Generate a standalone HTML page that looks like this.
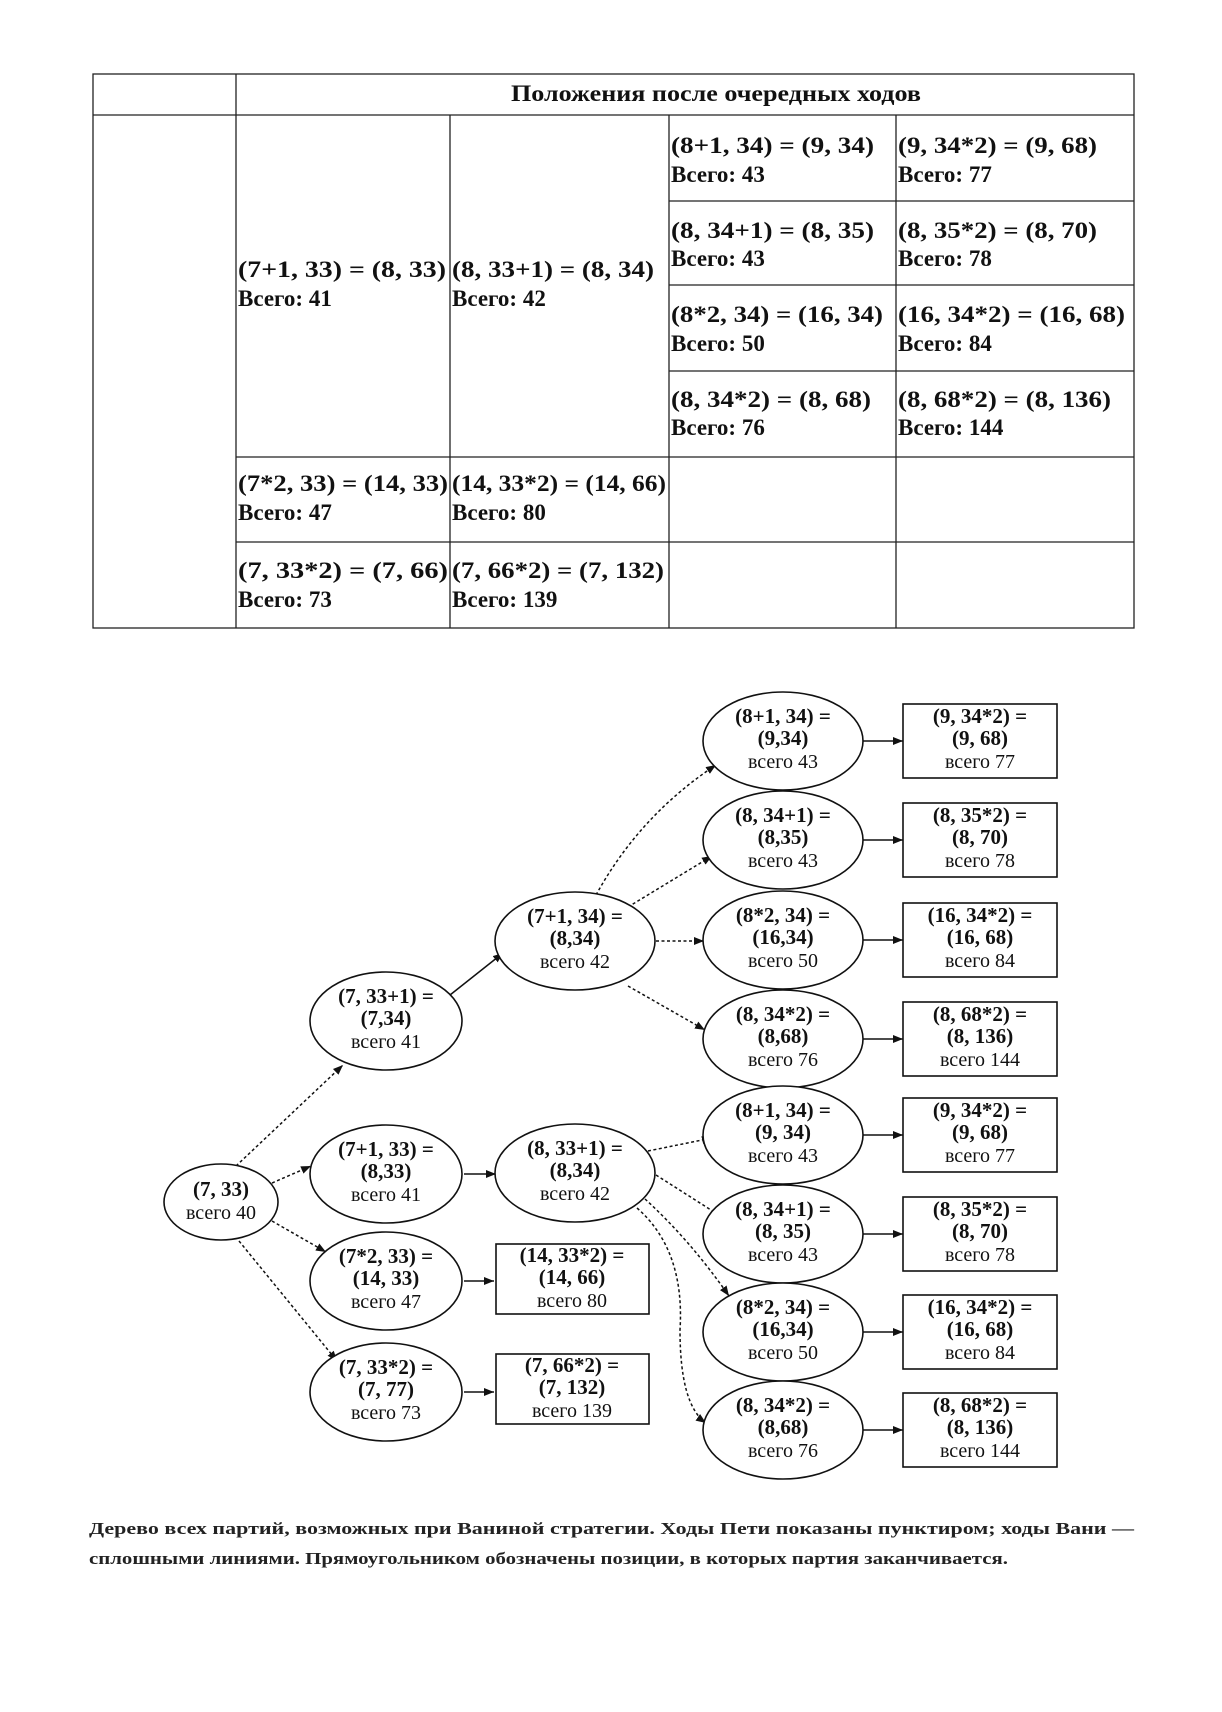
<!DOCTYPE html>
<html><head><meta charset="utf-8"><style>
html,body{margin:0;padding:0;background:#fff;}
svg{display:block;}
.t{font-family:"Liberation Serif",serif;font-size:23px;font-weight:bold;fill:#111;}
.n{font-family:"Liberation Serif",serif;font-size:21px;font-weight:bold;fill:#111;}
.v{font-family:"Liberation Serif",serif;font-size:20px;fill:#111;}
.c{font-family:"Liberation Serif",serif;font-size:17px;font-weight:bold;fill:#222;}
</style></head><body>
<svg width="1222" height="1712" viewBox="0 0 1222 1712" xmlns="http://www.w3.org/2000/svg">
<defs>
<marker id="a" viewBox="0 0 10 10" refX="10" refY="5" markerWidth="10" markerHeight="10" markerUnits="userSpaceOnUse" orient="auto"><path d="M0,1 L10,5 L0,9 z" fill="#111"/></marker>
</defs>
<g stroke="#222" stroke-width="1.3" fill="none">
<rect x="93" y="74" width="1041" height="554"/>
<line x1="93" y1="115" x2="1134" y2="115"/>
<line x1="236" y1="74" x2="236" y2="628"/>
<line x1="450" y1="115" x2="450" y2="628"/>
<line x1="669" y1="115" x2="669" y2="628"/>
<line x1="896" y1="115" x2="896" y2="628"/>
<line x1="669" y1="201" x2="1134" y2="201"/>
<line x1="669" y1="285" x2="1134" y2="285"/>
<line x1="669" y1="371" x2="1134" y2="371"/>
<line x1="236" y1="457" x2="1134" y2="457"/>
<line x1="236" y1="542" x2="1134" y2="542"/>
</g>
<text class="t" x="716" y="101" text-anchor="middle" font-size="21" textLength="410" lengthAdjust="spacingAndGlyphs">Положения после очередных ходов</text>
<g class="t" lengthAdjust="spacingAndGlyphs">
<text x="238" y="277" textLength="208" lengthAdjust="spacingAndGlyphs">(7+1, 33) = (8, 33)</text><text x="238" y="306">Всего: 41</text>
<text x="452" y="277" textLength="202" lengthAdjust="spacingAndGlyphs">(8, 33+1) = (8, 34)</text><text x="452" y="306">Всего: 42</text>
<text x="671" y="153" textLength="203" lengthAdjust="spacingAndGlyphs">(8+1, 34) = (9, 34)</text><text x="671" y="182">Всего: 43</text>
<text x="898" y="153" textLength="199" lengthAdjust="spacingAndGlyphs">(9, 34*2) = (9, 68)</text><text x="898" y="182">Всего: 77</text>
<text x="671" y="238" textLength="203" lengthAdjust="spacingAndGlyphs">(8, 34+1) = (8, 35)</text><text x="671" y="266">Всего: 43</text>
<text x="898" y="238" textLength="199" lengthAdjust="spacingAndGlyphs">(8, 35*2) = (8, 70)</text><text x="898" y="266">Всего: 78</text>
<text x="671" y="322" textLength="212" lengthAdjust="spacingAndGlyphs">(8*2, 34) = (16, 34)</text><text x="671" y="351">Всего: 50</text>
<text x="898" y="322" textLength="227" lengthAdjust="spacingAndGlyphs">(16, 34*2) = (16, 68)</text><text x="898" y="351">Всего: 84</text>
<text x="671" y="407" textLength="200" lengthAdjust="spacingAndGlyphs">(8, 34*2) = (8, 68)</text><text x="671" y="435">Всего: 76</text>
<text x="898" y="407" textLength="213" lengthAdjust="spacingAndGlyphs">(8, 68*2) = (8, 136)</text><text x="898" y="435">Всего: 144</text>
<text x="238" y="491" textLength="210" lengthAdjust="spacingAndGlyphs">(7*2, 33) = (14, 33)</text><text x="238" y="520">Всего: 47</text>
<text x="452" y="491" textLength="214" lengthAdjust="spacingAndGlyphs">(14, 33*2) = (14, 66)</text><text x="452" y="520">Всего: 80</text>
<text x="238" y="578" textLength="210" lengthAdjust="spacingAndGlyphs">(7, 33*2) = (7, 66)</text><text x="238" y="607">Всего: 73</text>
<text x="452" y="578" textLength="212" lengthAdjust="spacingAndGlyphs">(7, 66*2) = (7, 132)</text><text x="452" y="607">Всего: 139</text>
</g>

<g stroke="#111" stroke-width="1.5" fill="none" marker-end="url(#a)">
<g stroke-dasharray="3,2.5">
<line x1="236" y1="1166" x2="343" y2="1065"/>
<line x1="272" y1="1183" x2="311" y2="1166"/>
<line x1="272" y1="1221" x2="326" y2="1252"/>
<line x1="239" y1="1241" x2="337" y2="1361"/>
<path d="M596,895 Q640,815 716,765"/>
<line x1="628" y1="907" x2="712" y2="856"/>
<line x1="656" y1="941" x2="704" y2="941"/>
<line x1="628" y1="986" x2="705" y2="1030"/>
<line x1="648" y1="1151" x2="712" y2="1138"/>
<line x1="656" y1="1175" x2="722" y2="1217"/>
<path d="M645,1199 Q690,1240 729,1296"/>
<path d="M637,1208 Q685,1250 680,1330 Q680,1405 706,1423"/>
</g>
<line x1="450" y1="995" x2="503" y2="953"/>
<line x1="464" y1="1174" x2="496" y2="1174"/>
<line x1="464" y1="1281" x2="494" y2="1281"/>
<line x1="464" y1="1392" x2="494" y2="1392"/>
<line x1="863" y1="741" x2="903" y2="741"/>
<line x1="863" y1="840" x2="903" y2="840"/>
<line x1="863" y1="940" x2="903" y2="940"/>
<line x1="863" y1="1039" x2="903" y2="1039"/>
<line x1="863" y1="1135" x2="903" y2="1135"/>
<line x1="863" y1="1234" x2="903" y2="1234"/>
<line x1="863" y1="1332" x2="903" y2="1332"/>
<line x1="863" y1="1430" x2="903" y2="1430"/>
</g>

<g stroke="#111" stroke-width="1.6" fill="#fff">
<ellipse cx="221" cy="1202" rx="57" ry="38"/>
<ellipse cx="386" cy="1021" rx="76" ry="49"/>
<ellipse cx="386" cy="1174" rx="76" ry="49"/>
<ellipse cx="386" cy="1281" rx="76" ry="49"/>
<ellipse cx="386" cy="1392" rx="76" ry="49"/>
<ellipse cx="575" cy="941" rx="80" ry="49"/>
<ellipse cx="575" cy="1173" rx="80" ry="49"/>
<ellipse cx="783" cy="741" rx="80" ry="49"/>
<ellipse cx="783" cy="840" rx="80" ry="49"/>
<ellipse cx="783" cy="940" rx="80" ry="49"/>
<ellipse cx="783" cy="1039" rx="80" ry="49"/>
<ellipse cx="783" cy="1135" rx="80" ry="49"/>
<ellipse cx="783" cy="1234" rx="80" ry="49"/>
<ellipse cx="783" cy="1332" rx="80" ry="49"/>
<ellipse cx="783" cy="1430" rx="80" ry="49"/>
<rect x="903" y="704" width="154" height="74"/>
<rect x="903" y="803" width="154" height="74"/>
<rect x="903" y="903" width="154" height="74"/>
<rect x="903" y="1002" width="154" height="74"/>
<rect x="903" y="1098" width="154" height="74"/>
<rect x="903" y="1197" width="154" height="74"/>
<rect x="903" y="1295" width="154" height="74"/>
<rect x="903" y="1393" width="154" height="74"/>
<rect x="496" y="1244" width="153" height="70"/>
<rect x="496" y="1354" width="153" height="70"/>
</g>

<g text-anchor="middle">
<text class="n" x="221" y="1196">(7, 33)</text><text class="v" x="221" y="1219">всего 40</text>

<text class="n" x="386" y="1003">(7, 33+1) =</text><text class="n" x="386" y="1025">(7,34)</text><text class="v" x="386" y="1048">всего 41</text>
<text class="n" x="386" y="1156">(7+1, 33) =</text><text class="n" x="386" y="1178">(8,33)</text><text class="v" x="386" y="1201">всего 41</text>
<text class="n" x="386" y="1263">(7*2, 33) =</text><text class="n" x="386" y="1285">(14, 33)</text><text class="v" x="386" y="1308">всего 47</text>
<text class="n" x="386" y="1374">(7, 33*2) =</text><text class="n" x="386" y="1396">(7, 77)</text><text class="v" x="386" y="1419">всего 73</text>

<text class="n" x="575" y="923">(7+1, 34) =</text><text class="n" x="575" y="945">(8,34)</text><text class="v" x="575" y="968">всего 42</text>
<text class="n" x="575" y="1155">(8, 33+1) =</text><text class="n" x="575" y="1177">(8,34)</text><text class="v" x="575" y="1200">всего 42</text>

<text class="n" x="783" y="723">(8+1, 34) =</text><text class="n" x="783" y="745">(9,34)</text><text class="v" x="783" y="768">всего 43</text>
<text class="n" x="783" y="822">(8, 34+1) =</text><text class="n" x="783" y="844">(8,35)</text><text class="v" x="783" y="867">всего 43</text>
<text class="n" x="783" y="922">(8*2, 34) =</text><text class="n" x="783" y="944">(16,34)</text><text class="v" x="783" y="967">всего 50</text>
<text class="n" x="783" y="1021">(8, 34*2) =</text><text class="n" x="783" y="1043">(8,68)</text><text class="v" x="783" y="1066">всего 76</text>
<text class="n" x="783" y="1117">(8+1, 34) =</text><text class="n" x="783" y="1139">(9, 34)</text><text class="v" x="783" y="1162">всего 43</text>
<text class="n" x="783" y="1216">(8, 34+1) =</text><text class="n" x="783" y="1238">(8, 35)</text><text class="v" x="783" y="1261">всего 43</text>
<text class="n" x="783" y="1314">(8*2, 34) =</text><text class="n" x="783" y="1336">(16,34)</text><text class="v" x="783" y="1359">всего 50</text>
<text class="n" x="783" y="1412">(8, 34*2) =</text><text class="n" x="783" y="1434">(8,68)</text><text class="v" x="783" y="1457">всего 76</text>

<text class="n" x="980" y="723">(9, 34*2) =</text><text class="n" x="980" y="745">(9, 68)</text><text class="v" x="980" y="768">всего 77</text>
<text class="n" x="980" y="822">(8, 35*2) =</text><text class="n" x="980" y="844">(8, 70)</text><text class="v" x="980" y="867">всего 78</text>
<text class="n" x="980" y="922">(16, 34*2) =</text><text class="n" x="980" y="944">(16, 68)</text><text class="v" x="980" y="967">всего 84</text>
<text class="n" x="980" y="1021">(8, 68*2) =</text><text class="n" x="980" y="1043">(8, 136)</text><text class="v" x="980" y="1066">всего 144</text>
<text class="n" x="980" y="1117">(9, 34*2) =</text><text class="n" x="980" y="1139">(9, 68)</text><text class="v" x="980" y="1162">всего 77</text>
<text class="n" x="980" y="1216">(8, 35*2) =</text><text class="n" x="980" y="1238">(8, 70)</text><text class="v" x="980" y="1261">всего 78</text>
<text class="n" x="980" y="1314">(16, 34*2) =</text><text class="n" x="980" y="1336">(16, 68)</text><text class="v" x="980" y="1359">всего 84</text>
<text class="n" x="980" y="1412">(8, 68*2) =</text><text class="n" x="980" y="1434">(8, 136)</text><text class="v" x="980" y="1457">всего 144</text>

<text class="n" x="572" y="1262">(14, 33*2) =</text><text class="n" x="572" y="1284">(14, 66)</text><text class="v" x="572" y="1307">всего 80</text>
<text class="n" x="572" y="1372">(7, 66*2) =</text><text class="n" x="572" y="1394">(7, 132)</text><text class="v" x="572" y="1417">всего 139</text>
</g>

<text class="c" x="89" y="1534" textLength="1045" lengthAdjust="spacingAndGlyphs">Дерево всех партий, возможных при Ваниной стратегии. Ходы Пети показаны пунктиром; ходы Вани —</text>
<text class="c" x="89" y="1564" textLength="919" lengthAdjust="spacingAndGlyphs">сплошными линиями. Прямоугольником обозначены позиции, в которых партия заканчивается.</text>
</svg>
</body></html>
